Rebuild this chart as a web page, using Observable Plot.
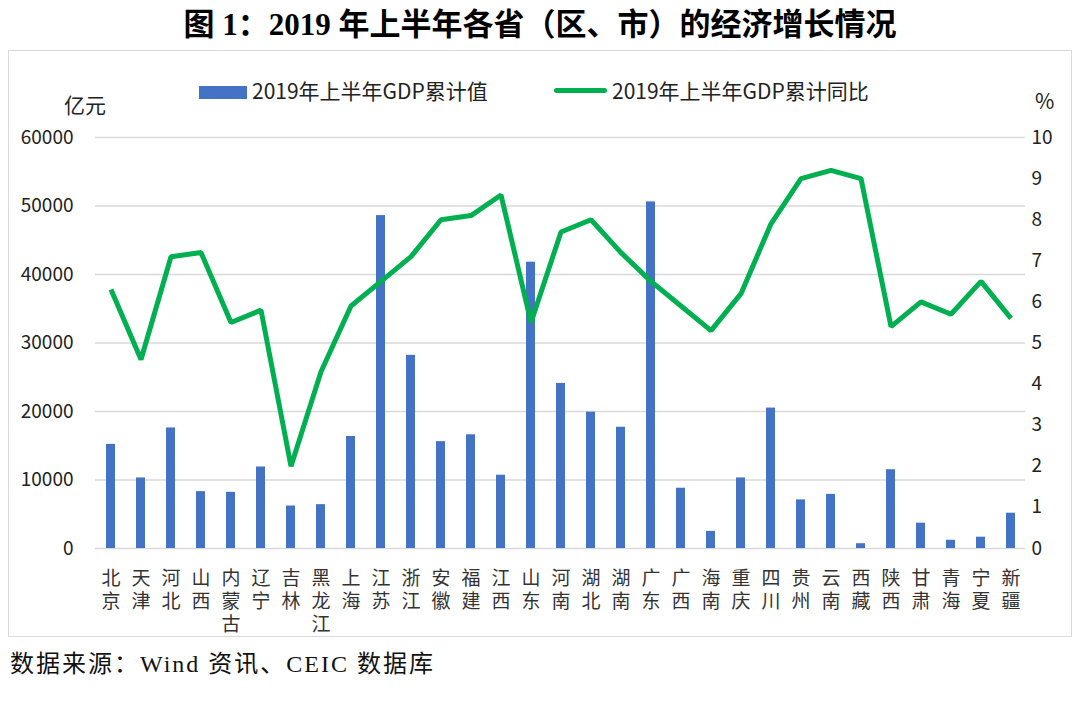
<!DOCTYPE html>
<html>
<head>
<meta charset="utf-8">
<script src="https://cdn.jsdelivr.net/npm/d3@7"></script>
<script src="https://cdn.jsdelivr.net/npm/@observablehq/plot@0.6"></script>
<style>
  html, body { margin: 0; padding: 0; background: #fff; }
  #page { position: relative; width: 1080px; height: 706px; overflow: hidden; font-family: "Noto Sans CJK SC", "Noto Sans", sans-serif; }
  #title { position: absolute; left: 0; top: 3px; width: 1080px; text-align: center; font-family: "Liberation Serif", "Noto Sans CJK SC", serif; font-weight: bold; font-size: 31px; color: #000; line-height: 44px; }
  #box { position: absolute; left: 8px; top: 50px; width: 1064px; height: 587px; border: 1.5px solid #d9d9d9; box-sizing: border-box; }
  #chart { position: absolute; left: 0; top: 50px; }
  .legend { position: absolute; top: 76px; font-size: 21px; color: #222; line-height: 28px; white-space: nowrap; }
  .unit { position: absolute; font-size: 21px; color: #222; line-height: 28px; }
  #source { position: absolute; left: 10px; top: 648px; font-family: "Liberation Serif", "Noto Sans CJK SC", serif; font-size: 24px; letter-spacing: 2px; color: #111; line-height: 32px; }
</style>
</head>
<body>
<div id="page">
  <div id="title">图 1：2019 年上半年各省（区、市）的经济增长情况</div>
  <div id="box"></div>
  <div id="chart"></div>
  <div class="legend" style="left:199px;"><span style="display:inline-block;width:48px;height:13px;background:#4472C4;vertical-align:0px;margin-right:5px;"></span>2019年上半年GDP累计值</div>
  <div class="legend" style="left:554px;"><span style="display:inline-block;width:53px;height:5px;background:#00B050;border-radius:3px;vertical-align:6px;margin-right:5px;"></span>2019年上半年GDP累计同比</div>
  <div class="unit" style="left:64px;top:90px;">亿元</div>
  <div class="unit" style="left:1035px;top:86px;">%</div>
  <div id="source">数据来源：Wind 资讯、CEIC 数据库</div>
</div>
<script>
const provinces = ["北京","天津","河北","山西","内蒙古","辽宁","吉林","黑龙江","上海","江苏","浙江","安徽","福建","江西","山东","河南","湖北","湖南","广东","广西","海南","重庆","四川","贵州","云南","西藏","陕西","甘肃","青海","宁夏","新疆"];
const gdpValues = [15200,10300,17600,8300,8200,11900,6200,6400,16350,48600,28200,15600,16600,10700,41800,24100,19900,17700,50600,8800,2500,10300,20500,7100,7900,700,11500,3700,1200,1650,5150];
const growthValues = [6.3,4.6,7.1,7.2,5.5,5.8,2.0,4.3,5.9,6.5,7.1,8.0,8.1,8.6,5.5,7.7,8.0,7.2,6.5,5.9,5.3,6.2,7.9,9.0,9.2,9.0,5.4,6.0,5.7,6.5,5.6];
const leftTicks = [0,10000,20000,30000,40000,50000,60000];
const rightTicks = [0,1,2,3,4,5,6,7,8,9,10];
const ratio = 6000; // 10% on the right axis corresponds to 60000 on the left

const data = provinces.map((p, i) => ({province: p, gdp: gdpValues[i], growth: growthValues[i]}));

const chart = Plot.plot({
  width: 1080,
  height: 590,
  marginTop: 87,
  marginBottom: 92,
  marginLeft: 95,
  marginRight: 55,
  style: {fontFamily: "'Noto Sans CJK SC', 'Noto Sans', sans-serif", color: "#222", background: "transparent"},
  x: {type: "band", domain: provinces, paddingInner: 0.7, paddingOuter: 0.35, label: null, axis: null},
  y: {domain: [0, 60000], label: null},
  marks: [
    Plot.gridY(leftTicks, {stroke: "#d9d9d9", strokeOpacity: 1, strokeWidth: 1.5}),
    Plot.barY(data, {x: "province", y: "gdp", fill: "#4472C4"}),
    Plot.line(data, {x: "province", y: d => d.growth * ratio, stroke: "#00B050", strokeWidth: 5, strokeLinejoin: "miter", strokeLinecap: "butt"}),
    Plot.axisY(leftTicks, {anchor: "left", tickSize: 0, tickPadding: 22, fontSize: 19, label: null, tickFormat: d => String(d)}),
    Plot.axisY(rightTicks.map(v => v * ratio), {anchor: "right", tickSize: 0, tickPadding: 6, fontSize: 19, label: null, tickFormat: d => String(d / ratio), textAnchor: "start"}),
    // category labels, written vertically (one character per line)
    Plot.text(provinces, {x: d => d, text: d => d, frameAnchor: "bottom", dy: 20, textAnchor: "start", lineAnchor: "bottom", fontSize: 19, fill: "#333"})
  ]
});
chart.querySelectorAll('g[aria-label="text"]').forEach(g => {
  g.setAttribute("writing-mode", "vertical-rl");
  g.style.letterSpacing = "4px";
});
document.getElementById("chart").appendChild(chart);
</script>
</body>
</html>
